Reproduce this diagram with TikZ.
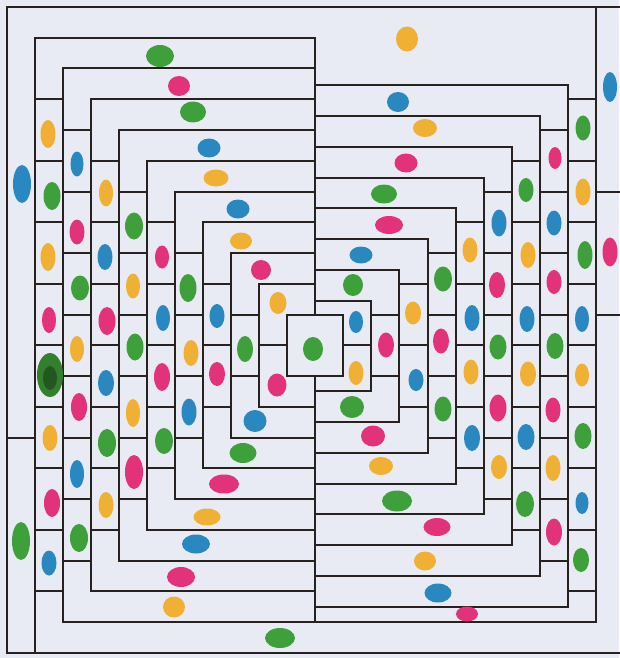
\documentclass[tikz,border=0pt]{standalone}
\pgfmathdeclarefunction{gx}{1}{\pgfmathparse{6.5+28.07*#1}}
\pgfmathdeclarefunction{gy}{1}{\pgfmathparse{7+30.75*#1}}
\definecolor{bgc}{RGB}{232,235,243}
\definecolor{ln}{RGB}{40,34,30}
\definecolor{cg}{RGB}{62,160,58}
\definecolor{cp}{RGB}{226,50,122}
\definecolor{cb}{RGB}{42,136,192}
\definecolor{co}{RGB}{240,176,52}
\newcommand\jb[5]{\fill[#1] (#2,#3) ellipse [x radius=#4pt, y radius=#5pt];}
\begin{document}
\begin{tikzpicture}[x=1pt,y=-1pt,
  wall/.style={draw=ln, line width=2pt, line cap=rect, line join=miter}]
\fill[bgc] (0,0) rectangle (619,658);
\useasboundingbox (0,0) rectangle (619,658);
% outer frame
\draw[wall] (619,{gy(0)}) -- ({gx(0)},{gy(0)}) -- ({gx(0)},{gy(21)}) -- (619,{gy(21)});
\draw[wall] ({gx(0)},{gy(14)}) -- ({gx(1)},{gy(14)});
\draw[wall] ({gx(21)},{gy(6)}) -- (619,{gy(6)});
\draw[wall] ({gx(21)},{gy(10)}) -- (619,{gy(10)});
% left C shapes
\foreach \k in {1,...,9}{
  \pgfmathtruncatemacro\kbot{22-\k}
  \draw[wall] ({gx(11)},{gy(\k)}) -- ({gx(\k)},{gy(\k)}) -- ({gx(\k)},{gy(\kbot)}) -- ({gx(11)},{gy(\kbot)});
}
% centre box and central wall
\draw[wall] ({gx(10)},{gy(10)}) rectangle ({gx(12)},{gy(12)});
\draw[wall] ({gx(11)},{gy(1)}) -- ({gx(11)},{gy(10)});
\draw[wall] ({gx(11)},{gy(12)}) -- ({gx(11)},{gy(20)});
% right C shapes
\draw[wall] ({gx(11)},{gy(20)}) -- ({gx(21)},{gy(20)}) -- ({gx(21)},{gy(0)});
\foreach \m in {1,...,8}{
  \pgfmathtruncatemacro\ccol{21-\m}
  \pgfmathsetmacro\ytop{gy(1.5+\m)+1.5}
  \pgfmathsetmacro\ybot{gy(20.5-\m)}
  \draw[wall] ({gx(11)},\ytop) -- ({gx(\ccol)},\ytop) -- ({gx(\ccol)},\ybot) -- ({gx(11)},\ybot);
}
% rungs, left half
\foreach \k in {1,...,9}{
  \pgfmathtruncatemacro\nn{9-\k}
  \foreach \j in {0,...,\nn}{
    \pgfmathsetmacro\yy{gy(\k+2+2*\j)}
    \draw[wall] ({gx(\k)},\yy) -- ({gx(\k+1)},\yy);
  }
}
% rungs, right half
\foreach \m in {1,...,9}{
  \pgfmathtruncatemacro\nn{9-\m}
  \pgfmathtruncatemacro\ccol{21-\m}
  \foreach \j in {0,...,\nn}{
    \pgfmathsetmacro\yy{gy(\m+2+2*\j)}
    \draw[wall] ({gx(\ccol)},\yy) -- ({gx(\ccol+1)},\yy);
  }
}
% ---- dots ----
% col 0
\jb{cb}{22}{184}{9}{19}
\jb{cg}{21}{541}{9}{19}
% col 1
\jb{co}{48}{134}{7.5}{14}
\jb{cg}{52}{196}{8.5}{14}
\jb{co}{48}{257}{7.5}{14}
\jb{cp}{49}{320}{7}{13}
\jb{cg!80!black}{50}{375}{13}{22}
\jb{cg!55!black}{50}{378}{7}{12}
\jb{co}{50}{438}{7.5}{13}
\jb{cp}{52}{503}{8}{14}
\jb{cb}{49}{563}{7.5}{12.5}
% col 2
\jb{cb}{77}{164}{6.5}{12.5}
\jb{cp}{77}{232}{7.5}{12.5}
\jb{cg}{80}{288}{9}{12.5}
\jb{co}{77}{349}{7}{13}
\jb{cp}{79}{407}{8}{14}
\jb{cb}{77}{474}{7}{14}
\jb{cg}{79}{538}{9}{14}
% col 3
\jb{co}{106}{193}{7}{13.5}
\jb{cb}{105}{257}{7.5}{13}
\jb{cp}{107}{321}{8.5}{14}
\jb{cb}{106}{383}{8}{13}
\jb{cg}{107}{443}{9}{14}
\jb{co}{106}{505}{7.5}{13}
% col 4
\jb{cg}{134}{226}{9}{13.5}
\jb{co}{133}{286}{7}{12.5}
\jb{cg}{135}{347}{8.5}{13.5}
\jb{co}{133}{413}{7}{14}
\jb{cp}{134}{472}{9}{17}
% col 5
\jb{cp}{162}{257}{7}{11.5}
\jb{cb}{163}{318}{7}{13}
\jb{cp}{162}{377}{8}{14}
\jb{cg}{164}{441}{9}{13}
% col 6
\jb{cg}{188}{288}{8.5}{14}
\jb{co}{191}{353}{7.5}{13}
\jb{cb}{189}{412}{7.5}{13.5}
% col 7, 8
\jb{cb}{217}{316}{7.5}{12}
\jb{cp}{217}{374}{8}{12}
\jb{cg}{245}{349}{8}{13}
% top bands, left
\jb{cg}{160}{56}{14}{11}
\jb{cp}{179}{86}{11}{10}
\jb{cg}{193}{112}{13}{10.5}
\jb{cb}{209}{148}{11.5}{9.5}
\jb{co}{216}{178}{12.5}{8.5}
\jb{cb}{238}{209}{11.5}{9.5}
\jb{co}{241}{241}{11}{8.5}
\jb{cp}{261}{270}{10}{10}
\jb{co}{278}{303}{8.5}{11}
% bottom bands, left
\jb{cp}{277}{385}{9.5}{11.5}
\jb{cb}{255}{421}{11.5}{11}
\jb{cg}{243}{453}{13.5}{10}
\jb{cp}{224}{484}{15}{9.5}
\jb{co}{207}{517}{13.5}{8.5}
\jb{cb}{196}{544}{14}{9.5}
\jb{cp}{181}{577}{14}{10}
\jb{co}{174}{607}{11}{10.5}
\jb{cg}{280}{638}{15}{10}
% centre
\jb{cg}{313}{349}{10}{12}
% top bands, right
\jb{co}{407}{39}{11}{12.5}
\jb{cb}{398}{102}{11}{10}
\jb{co}{425}{128}{12}{9}
\jb{cp}{406}{163}{11.5}{9.5}
\jb{cg}{384}{194}{13}{9.5}
\jb{cp}{389}{225}{14}{9}
\jb{cb}{361}{255}{11.5}{8.5}
\jb{cg}{353}{285}{10}{11}
% bottom bands, right
\jb{cg}{352}{407}{12}{11}
\jb{cp}{373}{436}{12}{10.5}
\jb{co}{381}{466}{12}{9}
\jb{cg}{397}{501}{15}{10.5}
\jb{cp}{437}{527}{13.5}{9}
\jb{co}{425}{561}{11}{9.5}
\jb{cb}{438}{593}{13.5}{9.5}
\jb{cp}{467}{614}{11}{7.5}
% right columns
\jb{cb}{356}{322}{7}{11}
\jb{co}{356}{373}{7.5}{12}
\jb{cp}{386}{345}{8}{12.5}
\jb{co}{413}{313}{8}{11.5}
\jb{cb}{416}{380}{7.5}{11}
\jb{cg}{443}{279}{9}{12.5}
\jb{cp}{441}{341}{8}{12.5}
\jb{cg}{443}{409}{8.5}{12.5}
\jb{co}{470}{250}{7.5}{12.5}
\jb{cb}{472}{318}{7.5}{13}
\jb{co}{471}{372}{7.5}{12.5}
\jb{cb}{472}{438}{8}{13}
\jb{cb}{499}{223}{7.5}{13.5}
\jb{cp}{497}{285}{8}{13}
\jb{cg}{498}{347}{8.5}{12.5}
\jb{cp}{498}{408}{8.5}{13.5}
\jb{co}{499}{467}{8}{12}
\jb{cg}{526}{190}{7.5}{12}
\jb{co}{528}{255}{7.5}{13}
\jb{cb}{527}{319}{7.5}{13}
\jb{co}{528}{374}{8}{12.5}
\jb{cb}{526}{437}{8.5}{13}
\jb{cg}{525}{504}{9}{13}
\jb{cp}{555}{158}{6.5}{11}
\jb{cb}{554}{223}{7.5}{12.5}
\jb{cp}{554}{282}{7.5}{12}
\jb{cg}{555}{346}{8.5}{13}
\jb{cp}{553}{410}{7.5}{12.5}
\jb{co}{553}{468}{7.5}{13}
\jb{cp}{554}{532}{8}{13.5}
\jb{cg}{583}{128}{7.5}{12.5}
\jb{co}{583}{192}{7.5}{13.5}
\jb{cg}{585}{255}{7.5}{14}
\jb{cb}{582}{319}{7}{13}
\jb{co}{582}{375}{7}{11.5}
\jb{cg}{583}{436}{8.5}{13}
\jb{cb}{582}{503}{6.5}{11}
\jb{cg}{581}{560}{8}{12}
\jb{cb}{610}{87}{7}{15}
\jb{cp}{610}{252}{7.5}{14.5}
\end{tikzpicture}
\end{document}
